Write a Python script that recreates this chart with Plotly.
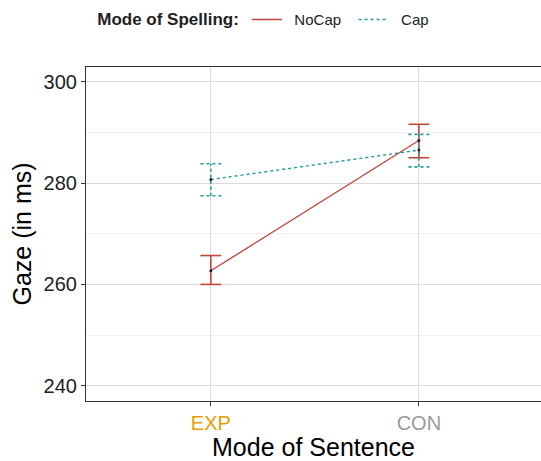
import plotly.graph_objects as go

categories = ["EXP", "CON"]
tick_colors = ["#E69F00", "#999999"]
series_names = ["NoCap", "Cap"]
means = {"NoCap": [262.7, 288.4], "Cap": [280.7, 286.5]}
upper = {"NoCap": [265.7, 291.6], "Cap": [283.8, 289.6]}
lower = {"NoCap": [260.0, 285.0], "Cap": [277.5, 283.2]}
colors = {"NoCap": "#C0463B", "Cap": "#22999A"}
dashes = {"NoCap": "solid", "Cap": "dot"}

xpos = list(range(len(categories)))
cap_half = 0.05

fig = go.Figure()

for name in series_names:
    c = colors[name]
    d = dashes[name]
    fig.add_trace(go.Scatter(x=xpos, y=means[name], mode="lines",
                             name="\u2002" + name + "\u2002",
                             line=dict(color=c, width=1.4, dash=d), showlegend=True))
    ex, ey = [], []
    for i, x in enumerate(xpos):
        ex += [x, x, None, x - cap_half, x + cap_half, None, x - cap_half, x + cap_half, None]
        ey += [lower[name][i], upper[name][i], None, upper[name][i], upper[name][i], None,
               lower[name][i], lower[name][i], None]
    fig.add_trace(go.Scatter(x=ex, y=ey, mode="lines", showlegend=False, hoverinfo="skip",
                             line=dict(color=c, width=1.6, dash=d)))

for name in series_names:
    fig.add_trace(go.Scatter(x=xpos, y=means[name], mode="markers", showlegend=False,
                             marker=dict(color="#222222", size=3)))

ticktext = [f"<span style='color:{col}'>{cat}</span>" for cat, col in zip(categories, tick_colors)]

fig.update_layout(
    width=541, height=461,
    margin=dict(l=86, r=0, t=67, b=60),
    paper_bgcolor="white", plot_bgcolor="white",
    font=dict(family="Liberation Sans, Arial, sans-serif", color="black"),
    legend=dict(orientation="h", x=0.176, xanchor="left", y=0.993, yanchor="top",
                xref="container", yref="container",
                title=dict(text="<b>Mode of Spelling:</b>", font=dict(size=17), side="left"),
                font=dict(size=15, color="#222222"), itemwidth=30, tracegroupgap=0),
    xaxis=dict(range=[-0.6, 1.587], tickvals=xpos, ticktext=ticktext,
               tickfont=dict(size=20), showgrid=True, gridcolor="#DADADA", gridwidth=1,
               showline=True, linecolor="#333333", linewidth=1.2, mirror=True,
               ticks="outside", ticklen=4, tickcolor="#333333", zeroline=False,
               title=dict(text="Mode of Sentence", font=dict(size=25), standoff=2)),
    yaxis=dict(range=[237.0, 302.9], tickvals=[240, 260, 280, 300],
               tickfont=dict(size=20, color="#222222"), showgrid=True, gridcolor="#DADADA", gridwidth=1,
               minor=dict(tickvals=[250, 270, 290], showgrid=True, gridcolor="#EFEFEF", gridwidth=1),
               showline=True, linecolor="#333333", linewidth=1.2, mirror=True,
               ticks="outside", ticklen=4, tickcolor="#333333", zeroline=False,
               title=dict(text="Gaze (in ms)", font=dict(size=25), standoff=4)),
)

fig.write_html("out.html")
